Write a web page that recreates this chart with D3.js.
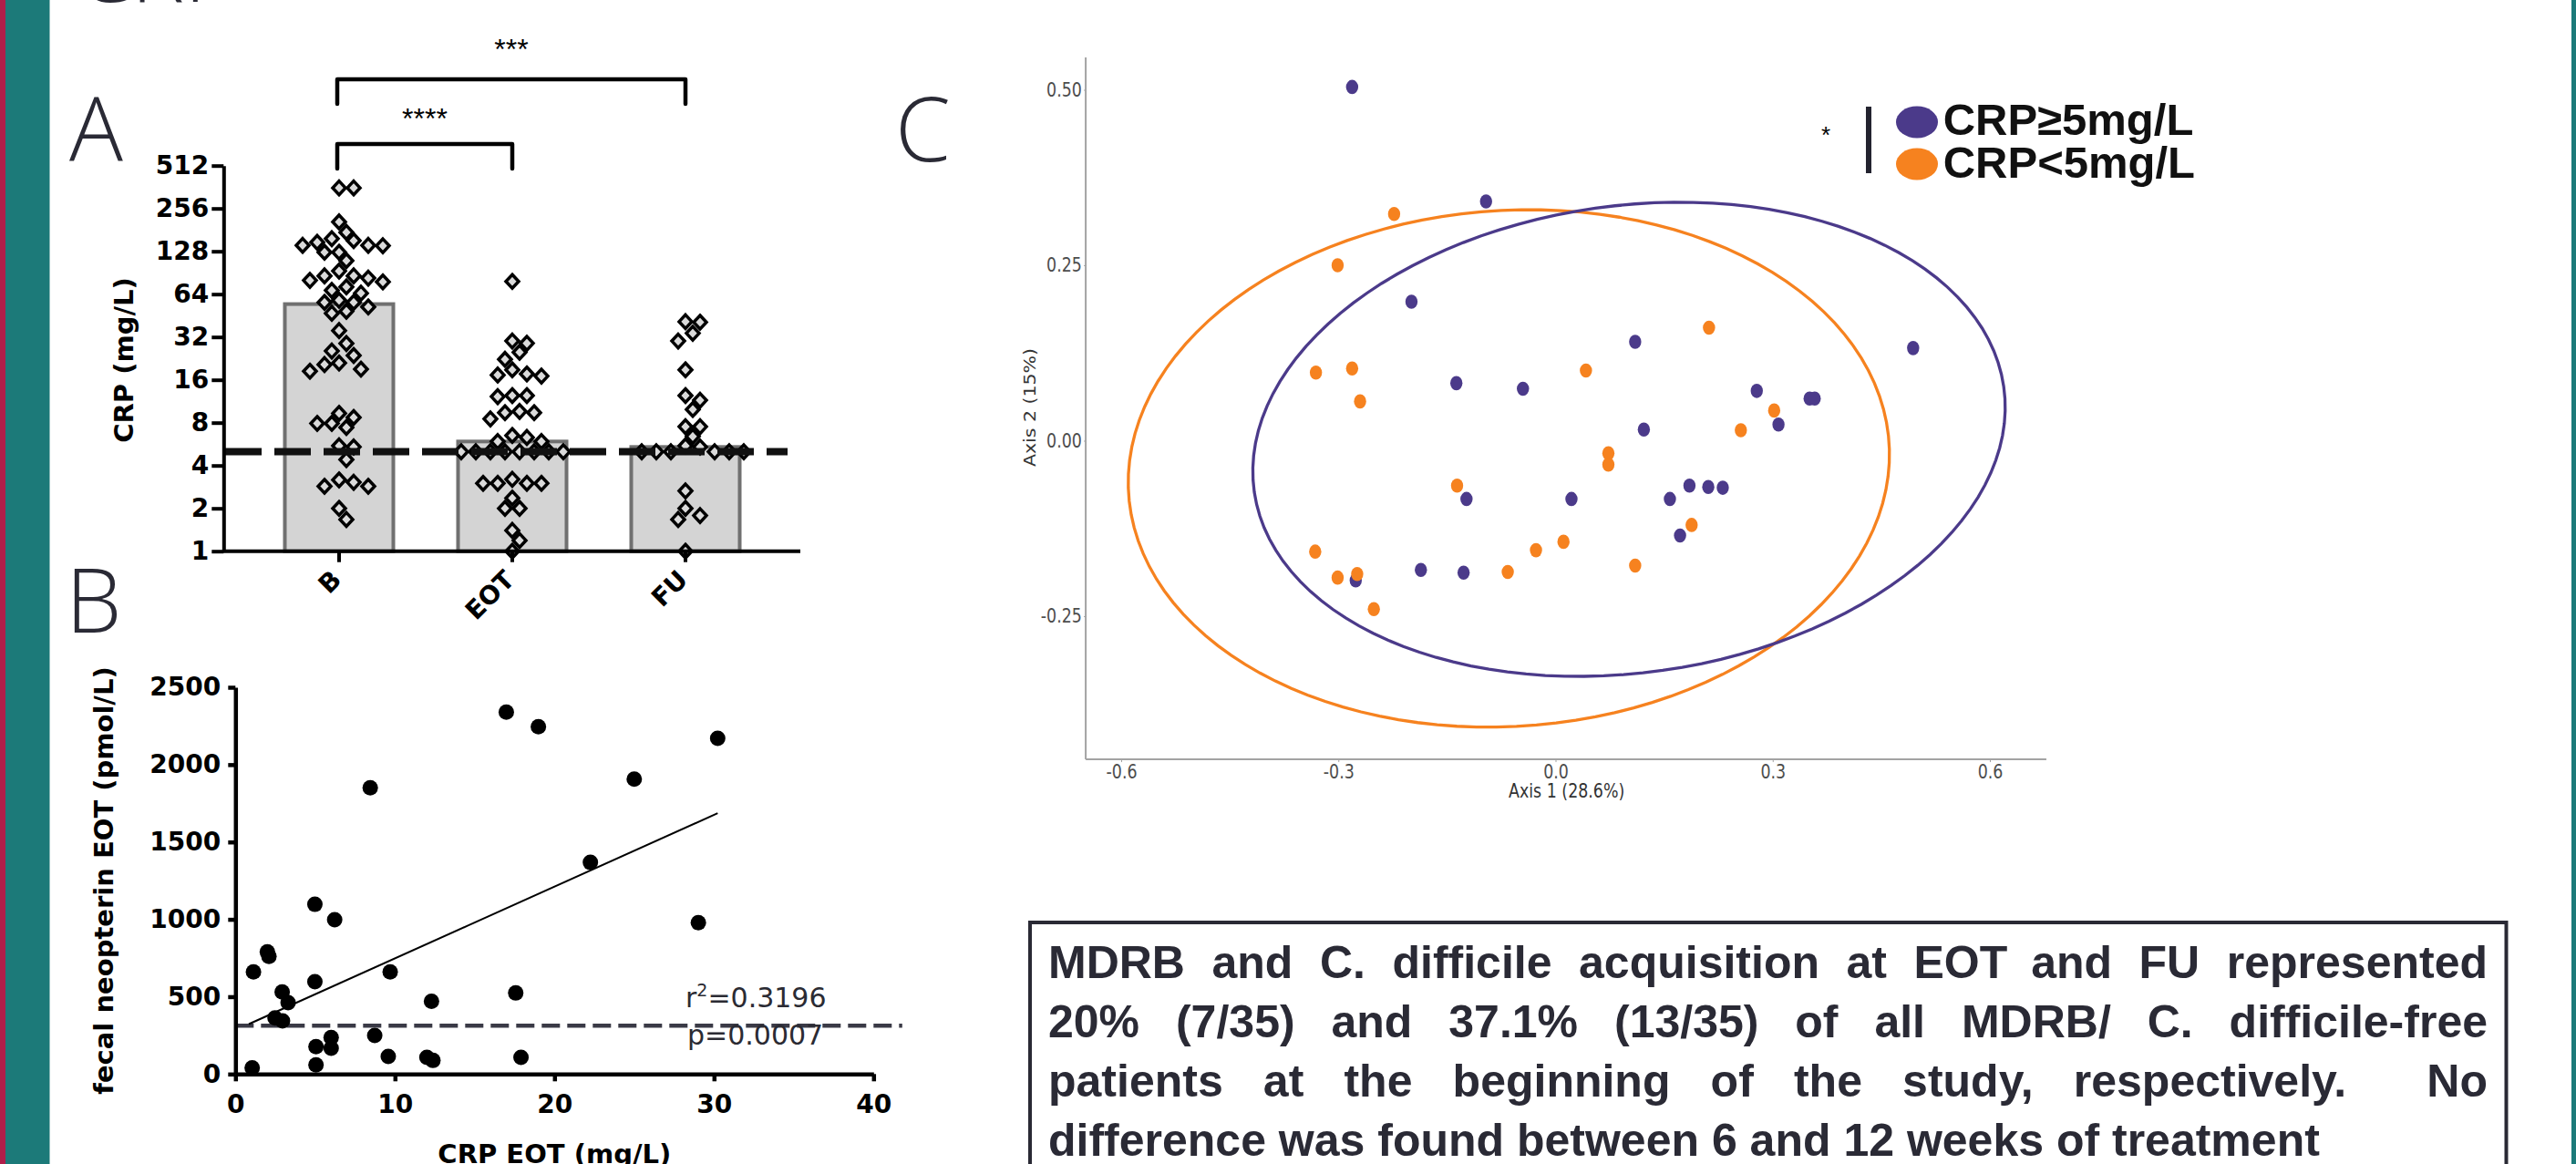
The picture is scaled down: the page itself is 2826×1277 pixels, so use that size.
<!DOCTYPE html>
<html>
<head>
<meta charset="utf-8">
<script src="https://cdn.jsdelivr.net/npm/d3@7"></script>
<style>
  body { margin: 0; background: #fff; }
  svg { display: block; }
</style>
</head>
<body>
<svg id="chart" width="2826" height="1277"></svg>
<script>
// ---- panel A: CRP by time point (log2 scale) ----
const groups = ['B', 'EOT', 'FU'];
const groupMeans = [54.5, 5.9, 5.4];
const crpB = [357, 357, 206, 174, 157, 152, 148, 141, 140, 141, 126, 126, 110, 93, 86, 83, 86, 78, 80, 72,
  68, 65, 56, 56, 58, 47, 48.5, 52, 35.5, 28.8, 25.5, 23.7, 21, 20.5, 19, 18.4, 9.3, 8.7, 7.4, 7.9,
  7.9, 5.5, 5.4, 4.4, 3.05, 3.17, 2.86, 2.86, 2.0, 1.67];
const crpEOT = [78.6, 30, 28.9, 25, 22.3, 18.8, 17.6, 17.3, 17, 12.4, 12.4, 12.2, 9.6, 9.4, 9.4, 8.5, 6.3,
  6.5, 5.9, 5.9, 5, 5, 5, 5, 5, 5, 5, 5, 3.2, 3, 3, 3, 3, 2.36, 2, 2, 1.4, 1.19, 1];
const crpFU = [40.6, 41, 34, 30, 18.8, 12.4, 11.5, 9.9, 7.5, 7.5, 6.4, 5.5, 5.4, 5, 5, 5, 5, 5, 5,
  2.65, 2, 1.78, 1.67, 1];
const log2Ticks = [1, 2, 4, 8, 16, 32, 64, 128, 256, 512];
const crpCutoff = 5;
const comparisons = [
  { from: 'B', to: 'EOT', label: '****' },
  { from: 'B', to: 'FU', label: '***' }
];

// ---- panel B: CRP EOT vs fecal neopterin EOT ----
const crpEot = [1.05, 1.13, 2.0, 2.1, 2.93, 3.3, 2.48, 2.95, 4.98, 6.22, 4.98, 5.05, 5.05, 6.0, 6.0, 8.45,
  8.73, 9.7, 9.58, 12.0, 12.38, 12.29, 16.98, 18.99, 22.25, 17.57, 17.9, 25.0, 30.23, 29.02];
const neopterinEot = [40, 660, 790, 760, 531, 461, 363, 343, 1097, 998, 597, 177, 59, 236, 167, 1851,
  249, 660, 114, 108, 88, 470, 2340, 2245, 1368, 524, 108, 1906, 2170, 979];
const fitLine = [[0.84, 323], [30.23, 1686]];
const neopterinCutoff = 312;
const xTicksB = [0, 10, 20, 30, 40];
const yTicksB = [0, 500, 1000, 1500, 2000, 2500];

// ---- panel C: PCoA ----
const highX = [-0.281, -0.096, -0.199, 0.110, 0.494, -0.137, -0.045, 0.278, 0.351, 0.358, 0.122, 0.308,
  -0.123, 0.022, 0.158, 0.185, 0.211, 0.231, 0.172, -0.186, -0.127, -0.276];
const highY = [0.504, 0.341, 0.198, 0.141, 0.132, 0.082, 0.074, 0.071, 0.060, 0.060, 0.016, 0.023,
  -0.083, -0.083, -0.083, -0.064, -0.066, -0.067, -0.135, -0.184, -0.188, -0.199];
const lowX = [-0.223, -0.301, 0.212, -0.331, -0.281, -0.270, 0.042, 0.302, 0.256, 0.073, 0.073, -0.136,
  0.188, 0.011, -0.027, -0.332, 0.110, -0.066, -0.301, -0.274, -0.251];
const lowY = [0.323, 0.250, 0.161, 0.097, 0.103, 0.056, 0.100, 0.043, 0.015, -0.018, -0.034, -0.064,
  -0.120, -0.144, -0.156, -0.158, -0.178, -0.187, -0.195, -0.190, -0.240];
// ellipse: centre, then the two conjugate half-axis vectors
const ellipseHigh = [0.1015, 0.002, 0.5185, 0.023, 0.035, 0.337];
const ellipseLow = [-0.0645, -0.0395, 0.5255, 0.008, 0.017, 0.3685];
const xTicksC = [-0.6, -0.3, 0, 0.3, 0.6];
const yTicksC = [-0.25, 0, 0.25, 0.5];
const legendLabels = ['CRP≥5mg/L', 'CRP<5mg/L'];

const summaryLines = [
  'MDRB and C. difficile acquisition at EOT and FU represented',
  '20% (7/35) and 37.1% (13/35) of all MDRB/ C. difficile-free',
  'patients at the beginning of the study, respectively.  No',
  'difference was found between 6 and 12 weeks of treatment'
];

const PRISM = "'DejaVu Sans', sans-serif";
const ARIAL = "'Liberation Sans', Arial, sans-serif";
const LIGHT = "'Open Sans', Lato, sans-serif";
const INK = '#2a2a35';
const PURPLE = '#4b3a8a';
const ORANGE = '#f6821f';

function draw() {
  const svg = d3.select('#chart');
  svg.append('rect').attr('width', 2826).attr('height', 1277).attr('fill', '#fff');
  svg.append('rect').attr('x', 0).attr('width', 6).attr('height', 1277).attr('fill', '#b01e4a');
  svg.append('rect').attr('x', 6).attr('width', 48.5).attr('height', 1277).attr('fill', '#1c7a79');
  svg.append('rect').attr('x', 2821).attr('width', 5).attr('height', 1277).attr('fill', '#1c7a79');

  // panel letters and cut-off title
  const letters = [['CRP', 83, 2], ['A', 76, 176.7], ['B', 72, 694], ['C', 982, 177]];
  svg.selectAll('text.letter').data(letters).join('text')
    .attr('class', 'letter')
    .attr('x', d => d[1]).attr('y', d => d[2])
    .attr('font-family', LIGHT).attr('font-weight', 300).attr('font-size', 98)
    .attr('fill', INK).text(d => d[0]);

  drawPanelA(svg);
  drawPanelB(svg);
  drawPanelC(svg);
  drawSummary(svg);
}

// simple dodge layout: each point takes the nearest free horizontal slot
function swarm(values, y) {
  const placed = [];
  const out = new Array(values.length);
  const order = d3.range(values.length).sort((a, b) => values[b] - values[a]);
  order.forEach(i => {
    const py = y(values[i]);
    for (let k = 0; k < 60; k++) {
      const off = (k % 2 ? 1 : -1) * Math.ceil(k / 2) * 8;
      const free = placed.every(p => Math.abs(p.x - off) / 16 + Math.abs(p.y - py) / 18 >= 1);
      if (free) {
        placed.push({ x: off, y: py });
        out[i] = { x: off, y: py };
        break;
      }
    }
  });
  return out;
}

function drawPanelA(svg) {
  const x = d3.scaleBand().domain(groups).range([277, 847]).paddingInner(0.3526).paddingOuter(0.1763);
  const y = d3.scaleLog().base(2).domain([1, 512]).range([604.7, 181.7]);
  const g = svg.append('g');
  const cx = d => x(d) + x.bandwidth() / 2;

  g.selectAll('rect.bar').data(groups).join('rect')
    .attr('class', 'bar')
    .attr('x', d => x(d) + 2)
    .attr('width', x.bandwidth() - 4)
    .attr('y', (d, i) => y(groupMeans[i]))
    .attr('height', (d, i) => y(1) - y(groupMeans[i]))
    .attr('fill', '#d4d4d4').attr('stroke', '#707070').attr('stroke-width', 4);

  const series = [crpB, crpEOT, crpFU];
  series.forEach((vals, gi) => {
    const pos = swarm(vals, y);
    g.append('g').selectAll('path').data(pos).join('path')
      .attr('d', 'M0,-7.5L7,0L0,7.5L-7,0Z')
      .attr('transform', p => `translate(${cx(groups[gi]) + p.x},${p.y})`)
      .attr('fill', '#dadada').attr('stroke', '#000').attr('stroke-width', 3.5);
  });

  g.append('line')
    .attr('x1', 247).attr('x2', 864)
    .attr('y1', y(crpCutoff)).attr('y2', y(crpCutoff))
    .attr('stroke', '#111').attr('stroke-width', 8).attr('stroke-dasharray', '40,14');

  // y axis
  const ya = g.append('g').attr('transform', 'translate(245.3,0)')
    .call(d3.axisLeft(y).tickValues(log2Ticks).tickFormat(d3.format('d')).tickSize(13).tickPadding(3).tickSizeOuter(0));
  ya.select('.domain').attr('stroke', '#000').attr('stroke-width', 4);
  ya.selectAll('.tick line').attr('stroke', '#000').attr('stroke-width', 4);
  ya.selectAll('.tick text').attr('font-family', PRISM).attr('font-weight', 'bold')
    .attr('font-size', 28).attr('fill', '#000');

  // x axis
  g.append('line').attr('x1', 244).attr('x2', 878).attr('y1', y(1)).attr('y2', y(1))
    .attr('stroke', '#000').attr('stroke-width', 4);
  g.selectAll('line.xt').data(groups).join('line').attr('class', 'xt')
    .attr('x1', cx).attr('x2', cx).attr('y1', y(1)).attr('y2', y(1) + 12)
    .attr('stroke', '#000').attr('stroke-width', 4);
  g.selectAll('text.xl').data(groups).join('text').attr('class', 'xl')
    .attr('transform', d => `translate(${cx(d) + 4},${y(1) + 33}) rotate(-45)`)
    .attr('text-anchor', 'end')
    .attr('font-family', PRISM).attr('font-weight', 'bold').attr('font-size', 28)
    .text(d => d);

  g.append('text')
    .attr('transform', 'translate(146,395) rotate(-90)')
    .attr('text-anchor', 'middle')
    .attr('font-family', PRISM).attr('font-weight', 'bold').attr('font-size', 29)
    .text('CRP (mg/L)');

  // significance brackets
  const levels = [{ top: 158, leg: 185, labelY: 141 }, { top: 87, leg: 114, labelY: 65 }];
  comparisons.forEach((c, i) => {
    const x1 = cx(c.from) - 2, x2 = cx(c.to), L = levels[i];
    g.append('path')
      .attr('d', `M${x1},${L.leg}V${L.top}H${x2}V${L.leg}`)
      .attr('fill', 'none').attr('stroke', '#000').attr('stroke-width', 4.5)
      .attr('stroke-linecap', 'round').attr('stroke-linejoin', 'round');
    g.append('text').attr('x', (x1 + x2) / 2).attr('y', L.labelY)
      .attr('text-anchor', 'middle').attr('font-family', ARIAL).attr('font-size', 32)
      .text(c.label);
  });
}

function drawPanelB(svg) {
  const x = d3.scaleLinear().domain([0, 40]).range([258.3, 958.3]);
  const y = d3.scaleLinear().domain([0, 2500]).range([1178.3, 754]);
  const g = svg.append('g');

  g.append('line')
    .attr('x1', x(0)).attr('x2', x(41.8))
    .attr('y1', y(neopterinCutoff)).attr('y2', y(neopterinCutoff))
    .attr('stroke', '#3a3a46').attr('stroke-width', 4.5).attr('stroke-dasharray', '20,8');

  g.append('path').datum(fitLine)
    .attr('d', d3.line().x(d => x(d[0])).y(d => y(d[1])))
    .attr('stroke', '#000').attr('stroke-width', 2).attr('fill', 'none');

  g.selectAll('circle').data(crpEot).join('circle')
    .attr('cx', d => x(d)).attr('cy', (d, i) => y(neopterinEot[i]))
    .attr('r', 8.5).attr('fill', '#000');

  const ya = g.append('g').attr('transform', `translate(${x(0)},0)`)
    .call(d3.axisLeft(y).tickValues(yTicksB).tickFormat(d3.format('d')).tickSize(8).tickPadding(8).tickSizeOuter(0));
  const xa = g.append('g').attr('transform', `translate(0,${y(0)})`)
    .call(d3.axisBottom(x).tickValues(xTicksB).tickFormat(d3.format('d')).tickSize(8).tickPadding(15).tickSizeOuter(0));
  [ya, xa].forEach(a => {
    a.select('.domain').attr('stroke', '#000').attr('stroke-width', 4.5);
    a.selectAll('.tick line').attr('stroke', '#000').attr('stroke-width', 4.5);
    a.selectAll('.tick text').attr('font-family', PRISM).attr('font-weight', 'bold')
      .attr('font-size', 28).attr('fill', '#000');
  });

  g.append('text')
    .attr('transform', 'translate(124,966) rotate(-90)')
    .attr('text-anchor', 'middle')
    .attr('font-family', PRISM).attr('font-weight', 'bold').attr('font-size', 29)
    .text('fecal neopterin EOT (pmol/L)');
  g.append('text').attr('x', x(20)).attr('y', 1276)
    .attr('text-anchor', 'middle')
    .attr('font-family', PRISM).attr('font-weight', 'bold').attr('font-size', 29)
    .text('CRP EOT (mg/L)');

  const r2 = g.append('text').attr('x', 752).attr('y', 1105)
    .attr('font-family', PRISM).attr('font-size', 30).attr('fill', '#2b2b33');
  r2.append('tspan').text('r');
  r2.append('tspan').attr('dy', -12).attr('font-size', 19).text('2');
  r2.append('tspan').attr('dy', 12).text('=0.3196');
  g.append('text').attr('x', 754).attr('y', 1146)
    .attr('font-family', PRISM).attr('font-size', 30).attr('fill', '#2b2b33')
    .text('p=0.0007');
}

function drawPanelC(svg) {
  const x = d3.scaleLinear().domain([-0.6, 0.6]).range([1230, 2183]);
  const y = d3.scaleLinear().domain([-0.25, 0.5]).range([676, 98.5]);
  const g = svg.append('g');
  const AXIS = '#a3a3a3', LABEL = '#4d4d4d';

  // axis lines over the full panel extent
  g.append('line').attr('x1', x(-0.649)).attr('x2', x(0.678)).attr('y1', y(-0.454)).attr('y2', y(-0.454))
    .attr('stroke', AXIS).attr('stroke-width', 2);
  g.append('line').attr('x1', x(-0.649)).attr('x2', x(-0.649)).attr('y1', y(-0.454)).attr('y2', y(0.546))
    .attr('stroke', AXIS).attr('stroke-width', 2);

  const xa = g.append('g').attr('transform', `translate(0,${y(-0.454)})`)
    .call(d3.axisBottom(x).tickValues(xTicksC).tickFormat(d => d.toFixed(1)).tickSize(3).tickPadding(3));
  const ya = g.append('g').attr('transform', `translate(${x(-0.649)},0)`)
    .call(d3.axisLeft(y).tickValues(yTicksC).tickFormat(d => d.toFixed(2)).tickSize(2).tickPadding(3));
  [xa, ya].forEach(a => {
    a.select('.domain').remove();
    a.selectAll('.tick line').attr('stroke', AXIS);
    a.selectAll('.tick text').attr('font-family', PRISM).attr('font-size', 20.5)
      .attr('fill', LABEL).attr('transform', 'scale(0.85,1)');
  });

  g.append('text').attr('transform', `translate(${x(0.0153)},875) scale(0.85,1)`)
    .attr('text-anchor', 'middle').attr('font-family', PRISM).attr('font-size', 20.5).attr('fill', '#333')
    .text('Axis 1 (28.6%)');
  g.append('text').attr('transform', 'translate(1136,447) scale(0.85,1) rotate(-90)')
    .attr('text-anchor', 'middle').attr('font-family', PRISM).attr('font-size', 20.5).attr('fill', '#333')
    .text('Axis 2 (15%)');

  const ring = e => d3.range(0, 120).map(k => {
    const t = k / 120 * 2 * Math.PI;
    return [e[0] + e[2] * Math.cos(t) + e[4] * Math.sin(t), e[1] + e[3] * Math.cos(t) + e[5] * Math.sin(t)];
  });
  const line = d3.line().x(d => x(d[0])).y(d => y(d[1])).curve(d3.curveLinearClosed);
  [[ellipseLow, ORANGE], [ellipseHigh, PURPLE]].forEach(([e, c]) => {
    g.append('path').attr('d', line(ring(e)))
      .attr('fill', 'none').attr('stroke', c).attr('stroke-width', 3.3);
  });

  [[highX, highY, PURPLE], [lowX, lowY, ORANGE]].forEach(([xs, ys, c]) => {
    g.append('g').selectAll('ellipse').data(xs).join('ellipse')
      .attr('cx', d => x(d)).attr('cy', (d, i) => y(ys[i]))
      .attr('rx', 6.7).attr('ry', 7.8).attr('fill', c);
  });

  // legend
  const lg = svg.append('g');
  lg.append('text').attr('x', 2003).attr('y', 157).attr('text-anchor', 'middle')
    .attr('font-family', ARIAL).attr('font-size', 26).text('*');
  lg.append('rect').attr('x', 2047).attr('y', 117).attr('width', 6).attr('height', 73).attr('fill', '#23232f');
  lg.selectAll('ellipse').data(legendLabels).join('ellipse')
    .attr('cx', 2103).attr('cy', (d, i) => 134 + i * 46)
    .attr('rx', 23).attr('ry', 17.5).attr('fill', (d, i) => i ? ORANGE : PURPLE);
  lg.selectAll('text.lab').data(legendLabels).join('text').attr('class', 'lab')
    .attr('x', 2131.7).attr('y', (d, i) => 148.3 + i * 46.7)
    .attr('font-family', ARIAL).attr('font-weight', 'bold').attr('font-size', 49).attr('fill', '#111')
    .text(d => d);
}

function drawSummary(svg) {
  const g = svg.append('g');
  const left = 1150, width = 1579;
  g.append('rect').attr('x', 1130).attr('y', 1012).attr('width', 1619.5).attr('height', 300)
    .attr('fill', '#fff').attr('stroke', INK).attr('stroke-width', 4);

  summaryLines.forEach((line, i) => {
    const t = g.append('text').attr('y', 1072.7 + i * 65)
      .attr('font-family', ARIAL).attr('font-weight', 'bold').attr('font-size', 50).attr('fill', INK);
    if (i === summaryLines.length - 1) {
      t.attr('x', left).text(line);
      return;
    }
    // justify: stretch every space equally so the line fills the box
    const words = [];
    let pending = 0;
    line.split(' ').forEach(p => {
      if (p === '') pending++;
      else { words.push({ w: p, gap: words.length ? pending + 1 : 0 }); pending = 0; }
    });
    const spans = t.selectAll('tspan').data(words).join('tspan').text(d => d.w);
    const widths = spans.nodes().map(n => n.getComputedTextLength());
    const unit = (width - d3.sum(widths)) / d3.sum(words, d => d.gap);
    let cur = left;
    spans.attr('x', (d, j) => {
      if (j > 0) cur += widths[j - 1] + d.gap * unit;
      return cur;
    });
  });
}

(document.fonts ? document.fonts.ready : Promise.resolve()).then(draw);
</script>
</body>
</html>
